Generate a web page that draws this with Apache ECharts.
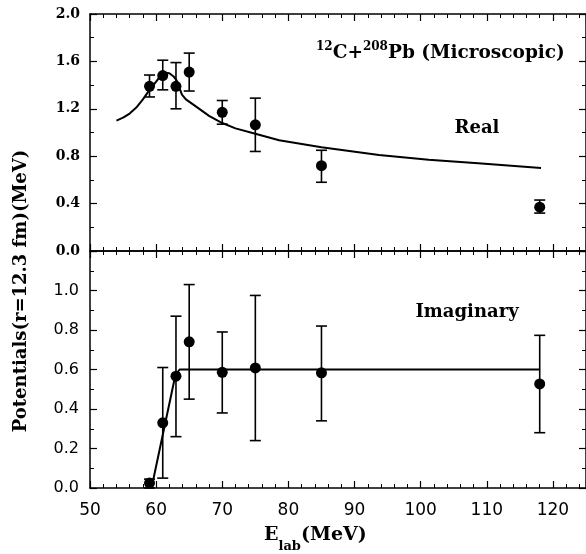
<!DOCTYPE html>
<html>
<head>
<meta charset="utf-8">
<script src="https://cdn.jsdelivr.net/npm/echarts@6/dist/echarts.min.js"></script>
<style>
  html, body { margin: 0; padding: 0; background: #fff; }
  #chart { width: 586px; height: 554px; }
</style>
</head>
<body>
<div id="chart"></div>
<script>
// Measured energies (MeV)
const energies = [59, 61, 63, 65, 70, 75, 85, 118];

// Real part at r = 12.3 fm: values and error limits
const realValues = [1.39, 1.48, 1.39, 1.51, 1.17, 1.065, 0.72, 0.37];
const realLow    = [1.30, 1.36, 1.20, 1.35, 1.07, 0.84, 0.58, 0.32];
const realHigh   = [1.485, 1.61, 1.59, 1.67, 1.27, 1.29, 0.85, 0.43];

// Imaginary part at r = 12.3 fm: values and error limits
const imagValues = [0.025, 0.33, 0.566, 0.74, 0.586, 0.608, 0.583, 0.527];
const imagLow    = [0.0, 0.05, 0.26, 0.45, 0.38, 0.24, 0.34, 0.28];
const imagHigh   = [0.045, 0.61, 0.87, 1.03, 0.79, 0.975, 0.82, 0.773];

// Microscopic real potential curve
const realCurveE = [54, 55, 56, 57, 58, 59, 60, 60.7, 61.3, 62, 62.6, 63.1, 63.5, 63.9, 64.5, 66, 68, 70, 72, 75, 78.6, 85, 93.7, 101.2, 108.7, 118.2];
const realCurveV = [1.10, 1.125, 1.16, 1.21, 1.28, 1.36, 1.43, 1.48, 1.505, 1.50, 1.475, 1.44, 1.38, 1.32, 1.28, 1.22, 1.14, 1.08, 1.035, 0.99, 0.935, 0.875, 0.81, 0.77, 0.74, 0.70];

// Imaginary potential curve
const imagCurveE = [59.3, 62.9, 63.55, 118];
const imagCurveV = [0.0, 0.57, 0.60, 0.60];

// Tick layout
const xTicks = { min: 50, max: 125, interval: 10 };
const realTicks = { min: 0, max: 2.0, interval: 0.4 };
const imagTicks = { min: 0, max: 1.2, interval: 0.2 };

const pairs = (xs, ys) => xs.map((x, i) => [x, ys[i]]);
const triples = (xs, lo, hi) => xs.map((x, i) => [x, lo[i], hi[i]]);

const SERIF = 'DejaVu Serif';
const SANS = 'DejaVu Sans';

function errorBar(params, api) {
  const x = api.value(0);
  const lo = api.coord([x, api.value(1)]);
  const hi = api.coord([x, api.value(2)]);
  const w = 5.5;
  const st = { stroke: '#000', lineWidth: 1.6 };
  return {
    type: 'group',
    children: [
      { type: 'line', shape: { x1: hi[0], y1: hi[1], x2: lo[0], y2: lo[1] }, style: st },
      { type: 'line', shape: { x1: hi[0] - w, y1: hi[1], x2: hi[0] + w, y2: hi[1] }, style: st },
      { type: 'line', shape: { x1: lo[0] - w, y1: lo[1], x2: lo[0] + w, y2: lo[1] }, style: st }
    ]
  };
}

const axisLine = { show: true, onZero: false, lineStyle: { color: '#000', width: 1.5 } };
const tick = { show: true, inside: true, length: 7, lineStyle: { color: '#000', width: 1.2 } };
const minor = { show: true, splitNumber: 2, length: 4, lineStyle: { color: '#000', width: 1 } };
const xMinor = { show: true, splitNumber: 5, length: 4, lineStyle: { color: '#000', width: 1 } };

function xAxisDef(grid, position, showLabels) {
  return {
    type: 'value', gridIndex: grid, position: position,
    min: xTicks.min, max: xTicks.max, interval: xTicks.interval,
    axisLine: axisLine, axisTick: tick, minorTick: xMinor,
    splitLine: { show: false },
    axisLabel: showLabels ? {
      show: true, showMaxLabel: false, margin: 14,
      fontFamily: SANS, fontSize: 17, color: '#000'
    } : { show: false }
  };
}

function yAxisDef(grid, position, ticks, labelStyle) {
  return {
    type: 'value', gridIndex: grid, position: position,
    min: ticks.min, max: ticks.max, interval: ticks.interval,
    axisLine: axisLine, axisTick: tick, minorTick: minor,
    splitLine: { show: false },
    axisLabel: labelStyle ? Object.assign({
      show: true, color: '#000',
      formatter: v => v.toFixed(1)
    }, labelStyle) : { show: false }
  };
}

const chart = echarts.init(document.getElementById('chart'), null, { renderer: 'canvas' });

chart.setOption({
  animation: false,
  backgroundColor: '#fff',
  grid: [
    { left: 90, top: 14, width: 497, height: 237 },
    { left: 90, top: 251, width: 497, height: 237 }
  ],
  xAxis: [
    xAxisDef(0, 'bottom', false),
    xAxisDef(0, 'top', false),
    xAxisDef(1, 'top', false),
    xAxisDef(1, 'bottom', true)
  ],
  yAxis: [
    yAxisDef(0, 'left', realTicks, { fontFamily: SERIF, fontWeight: 'bold', fontSize: 14, margin: 10 }),
    yAxisDef(0, 'right', realTicks, null),
    yAxisDef(1, 'left', imagTicks, { fontFamily: SANS, fontSize: 16, margin: 11, showMaxLabel: false }),
    yAxisDef(1, 'right', imagTicks, null)
  ],
  graphic: [
    {
      type: 'text', left: 316, top: 41,
      style: {
        text: '{sup|12}{main|C+}{sup|208}{main|Pb (Microscopic)}',
        rich: {
          main: { fontFamily: SERIF, fontWeight: 'bold', fontSize: 18.5, lineHeight: 24, fill: '#000' },
          sup: { fontFamily: SERIF, fontWeight: 'bold', fontSize: 12, lineHeight: 14, verticalAlign: 'top', fill: '#000' }
        }
      }
    },
    {
      type: 'text', x: 477, y: 128,
      style: { text: 'Real', fontFamily: SERIF, fontWeight: 'bold', fontSize: 18, fill: '#000', align: 'center', verticalAlign: 'middle' }
    },
    {
      type: 'text', x: 467, y: 312,
      style: { text: 'Imaginary', fontFamily: SERIF, fontWeight: 'bold', fontSize: 18, fill: '#000', align: 'center', verticalAlign: 'middle' }
    },
    {
      type: 'text', x: 21, y: 291, rotation: Math.PI / 2,
      style: { text: 'Potentials(r=12.3 fm)(MeV)', fontFamily: SERIF, fontWeight: 'bold', fontSize: 18, fill: '#000', align: 'center', verticalAlign: 'middle' }
    },
    {
      type: 'text', left: 264, top: 526,
      style: {
        text: '{main|E}{sub|lab}{main|(MeV)}',
        rich: {
          main: { fontFamily: SERIF, fontWeight: 'bold', fontSize: 19, lineHeight: 24, fill: '#000' },
          sub: { fontFamily: SERIF, fontWeight: 'bold', fontSize: 13, lineHeight: 14, verticalAlign: 'bottom', padding: [0, 0, -6, 0], fill: '#000' }
        }
      }
    }
  ],
  series: [
    {
      type: 'line', xAxisIndex: 0, yAxisIndex: 0,
      data: pairs(realCurveE, realCurveV),
      symbol: 'none', smooth: false,
      lineStyle: { color: '#000', width: 2 }
    },
    {
      type: 'custom', xAxisIndex: 0, yAxisIndex: 0,
      data: triples(energies, realLow, realHigh),
      renderItem: errorBar, z: 3
    },
    {
      type: 'scatter', xAxisIndex: 0, yAxisIndex: 0,
      data: pairs(energies, realValues),
      symbol: 'circle', symbolSize: 11,
      itemStyle: { color: '#000', opacity: 1 }, z: 4
    },
    {
      type: 'line', xAxisIndex: 3, yAxisIndex: 2,
      data: pairs(imagCurveE, imagCurveV),
      symbol: 'none',
      lineStyle: { color: '#000', width: 2 }
    },
    {
      type: 'custom', xAxisIndex: 3, yAxisIndex: 2,
      data: triples(energies, imagLow, imagHigh),
      renderItem: errorBar, z: 3
    },
    {
      type: 'scatter', xAxisIndex: 3, yAxisIndex: 2,
      data: pairs(energies, imagValues),
      symbol: 'circle', symbolSize: 11,
      itemStyle: { color: '#000', opacity: 1 }, z: 4
    }
  ]
});
</script>
</body>
</html>
